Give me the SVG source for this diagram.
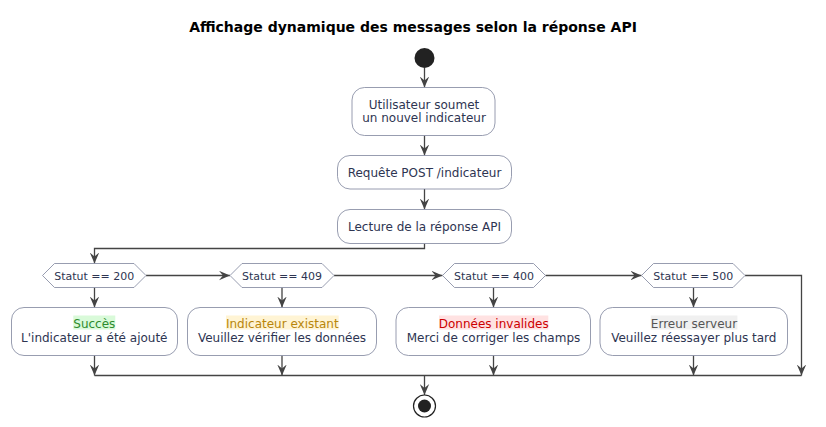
<svg xmlns="http://www.w3.org/2000/svg" width="826" height="427" viewBox="0 0 826 427">
<style>
.box{fill:#FFFFFF;stroke:#7E849C;stroke-width:0.8}
.hex{fill:#FFFFFF;stroke:#7E849C;stroke-width:0.8}
.t{font-family:"DejaVu Sans",sans-serif;font-size:12px;fill:#2E3552;text-anchor:middle}
.ht{font-family:"DejaVu Sans",sans-serif;font-size:11px;fill:#2E3552;text-anchor:middle}
.title{font-family:"DejaVu Sans",sans-serif;font-size:14px;font-weight:bold;fill:#000000;text-anchor:middle}
.c{fill:none;stroke:#444444;stroke-width:1.3}
</style>
<defs>
<marker id="ah" viewBox="0 0 11 10" refX="11" refY="5" markerWidth="11" markerHeight="10" markerUnits="userSpaceOnUse" orient="auto">
<path d="M0,0.3 L11,5 L0,9.7 L4,5 z" fill="#444444"/>
</marker>
</defs>
<rect width="826" height="427" fill="#FFFFFF"/>
<text class="title" x="413" y="32">Affichage dynamique des messages selon la réponse API</text>

<g id="connectors">
<path class="c" d="M424.5,68 V87.5" marker-end="url(#ah)"/>
<path class="c" d="M424.5,135.5 V155.5" marker-end="url(#ah)"/>
<path class="c" d="M424.5,189 V209.5" marker-end="url(#ah)"/>
<path class="c" d="M424.5,243.5 V248.5 H94.5 V263.5" marker-end="url(#ah)"/>
<path class="c" d="M146,275.5 H230" marker-end="url(#ah)"/>
<path class="c" d="M334,275.5 H442.5" marker-end="url(#ah)"/>
<path class="c" d="M545.5,275.5 H641.5" marker-end="url(#ah)"/>
<path class="c" d="M745,275.5 H801.5 V375.5" marker-end="url(#ah)"/>
<path class="c" d="M94.5,287.5 V307.5" marker-end="url(#ah)"/>
<path class="c" d="M282,287.5 V307.5" marker-end="url(#ah)"/>
<path class="c" d="M493.5,287.5 V307.5" marker-end="url(#ah)"/>
<path class="c" d="M693.5,287.5 V307.5" marker-end="url(#ah)"/>
<path class="c" d="M94.5,355.5 V375.5" marker-end="url(#ah)"/>
<path class="c" d="M282,355.5 V375.5" marker-end="url(#ah)"/>
<path class="c" d="M493.5,355.5 V375.5" marker-end="url(#ah)"/>
<path class="c" d="M693.5,355.5 V375.5" marker-end="url(#ah)"/>
<path class="c" d="M94.5,375.5 H801.5"/>
<path class="c" d="M424.5,375.5 V395" marker-end="url(#ah)"/>
</g>

<g id="start">
<circle cx="424.5" cy="58" r="10" fill="#222222"/>
</g>

<g id="submit">
<rect class="box" x="352" y="87.5" width="143" height="48" rx="12.5"/>
<text class="t" x="424" y="108.5">Utilisateur soumet</text>
<text class="t" x="424" y="122">un nouvel indicateur</text>
</g>

<g id="post">
<rect class="box" x="337.5" y="155.5" width="174" height="33.5" rx="12.5"/>
<text class="t" x="424.5" y="176.5">Requête POST /indicateur</text>
</g>

<g id="read">
<rect class="box" x="337.5" y="209.5" width="174" height="34" rx="12.5"/>
<text class="t" x="424.5" y="230.5">Lecture de la réponse API</text>
</g>

<g id="d200">
<polygon class="hex" points="42.5,275.5 54.5,263.5 134,263.5 146,275.5 134,287.5 54.5,287.5"/>
<text class="ht" x="94.2" y="279.5">Statut == 200</text>
</g>
<g id="d409">
<polygon class="hex" points="230,275.5 242,263.5 322,263.5 334,275.5 322,287.5 242,287.5"/>
<text class="ht" x="282" y="279.5">Statut == 409</text>
</g>
<g id="d400">
<polygon class="hex" points="442.5,275.5 454.5,263.5 533.5,263.5 545.5,275.5 533.5,287.5 454.5,287.5"/>
<text class="ht" x="494" y="279.5">Statut == 400</text>
</g>
<g id="d500">
<polygon class="hex" points="641.5,275.5 653.5,263.5 733,263.5 745,275.5 733,287.5 653.5,287.5"/>
<text class="ht" x="693.3" y="279.5">Statut == 500</text>
</g>

<g id="success">
<rect class="box" x="11.5" y="307.5" width="166" height="48" rx="12.5"/>
<rect x="73.3" y="315.5" width="42" height="14" fill="#D9FAD9"/>
<text class="t" x="94.3" y="327.5" style="fill:#2E8B2E">Succès</text>
<text class="t" x="94.3" y="342">L'indicateur a été ajouté</text>
</g>

<g id="exists">
<rect class="box" x="187.5" y="307.5" width="189" height="48" rx="12.5"/>
<rect x="226" y="315.5" width="112.7" height="14" fill="#FFF4D4"/>
<text class="t" x="282.3" y="327.5" style="fill:#B8860B">Indicateur existant</text>
<text class="t" x="282" y="342">Veuillez vérifier les données</text>
</g>

<g id="invalid">
<rect class="box" x="396" y="307.5" width="194.5" height="48" rx="12.5"/>
<rect x="439" y="315.5" width="109.3" height="14" fill="#FFE2E2"/>
<text class="t" x="493.7" y="327.5" style="fill:#CC0000">Données invalides</text>
<text class="t" x="493.5" y="342">Merci de corriger les champs</text>
</g>

<g id="server">
<rect class="box" x="600" y="307.5" width="187.5" height="48" rx="12.5"/>
<rect x="650.7" y="315.5" width="86.7" height="14" fill="#F0F0F0"/>
<text class="t" x="694" y="327.5" style="fill:#555555">Erreur serveur</text>
<text class="t" x="693.8" y="342">Veuillez réessayer plus tard</text>
</g>

<g id="end">
<circle cx="424.5" cy="406" r="11" fill="#FFFFFF" stroke="#222222" stroke-width="1.2"/>
<circle cx="424.5" cy="406" r="6.5" fill="#222222"/>
</g>
</svg>
